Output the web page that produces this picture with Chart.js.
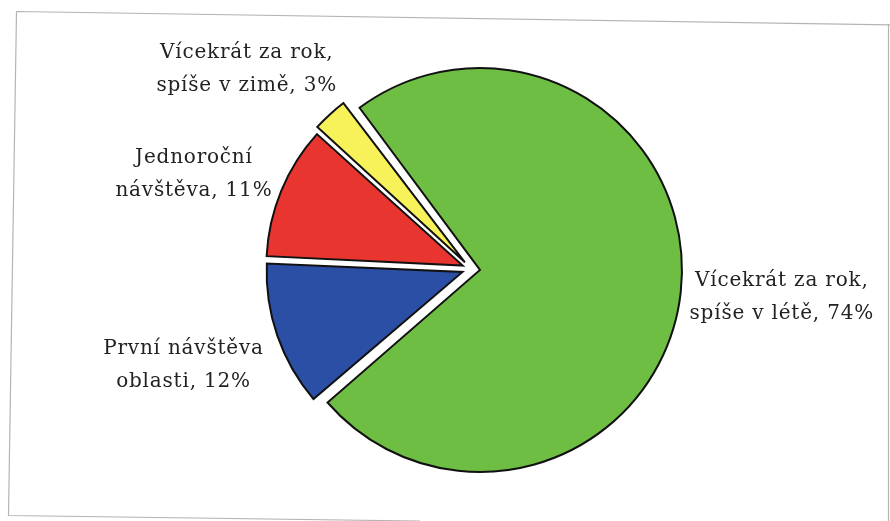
<!DOCTYPE html>
<html>
<head>
<meta charset="utf-8">
<script src="https://cdn.jsdelivr.net/npm/chart.js@4.4.1/dist/chart.umd.min.js"></script>
<style>
  html, body { margin: 0; padding: 0; background: #fff; }
  #wrap { width: 890px; height: 521px; position: relative; }
</style>
</head>
<body>
<div id="wrap"><canvas id="pieChart"></canvas></div>
<script>
const labels = [
  ['Vícekrát za rok,', 'spíše v létě, 74%'],
  ['První návštěva', 'oblasti, 12%'],
  ['Jednoroční', 'návštěva, 11%'],
  ['Vícekrát za rok,', 'spíše v zimě, 3%']
];
const shares = [74, 12, 11, 3];
const sliceColors = ['#6fbe44', '#2c4fa6', '#e8352f', '#f8f25a'];

// where each label block sits relative to the outer middle of its slice
const labelShift = [[101, 6], [-88, 28], [-82, -14], [-82, -44]];

const frame = {
  id: 'frame',
  beforeDraw(chart) {
    const ctx = chart.ctx;
    ctx.save();
    ctx.fillStyle = '#fff';
    ctx.fillRect(0, 0, chart.width, chart.height);
    ctx.strokeStyle = '#b4b4b4';
    ctx.lineWidth = 1.2;
    ctx.beginPath();
    ctx.moveTo(16.5, 11.5);
    ctx.lineTo(892, 25);
    ctx.moveTo(16.5, 11.5);
    ctx.lineTo(8.5, 515.5);
    ctx.lineTo(420, 521);
    ctx.moveTo(888.5, 24);
    ctx.lineTo(888.5, 521);
    ctx.stroke();
    ctx.restore();
  }
};

const sliceLabels = {
  id: 'sliceLabels',
  afterDraw(chart) {
    const ctx = chart.ctx;
    const meta = chart.getDatasetMeta(0);
    ctx.save();
    ctx.font = '20px "DejaVu Serif", serif';
    ctx.letterSpacing = '0.8px';
    ctx.fillStyle = '#222';
    ctx.textAlign = 'center';
    ctx.textBaseline = 'middle';
    const lineH = 33;
    meta.data.forEach((arc, i) => {
      const p = arc.getProps(['x', 'y', 'startAngle', 'endAngle', 'outerRadius'], true);
      const mid = (p.startAngle + p.endAngle) / 2;
      // chart.js moves an arc by a quarter of its offset and grows it by the same
      const off = (arc.options.offset || 0) / 4;
      const r = p.outerRadius + 2 * off;
      const cx = p.x + Math.cos(mid) * r + labelShift[i][0];
      const cy = p.y + Math.sin(mid) * r + labelShift[i][1];
      const lines = labels[i];
      lines.forEach((t, k) => {
        ctx.fillText(t, cx, cy + (k - (lines.length - 1) / 2) * lineH);
      });
    });
    ctx.restore();
  }
};

const pieCtx = document.getElementById('pieChart').getContext('2d');
const pieChart = new Chart(pieCtx, {
  type: 'pie',
  data: {
    labels: labels.map(l => l.join(' ')),
    datasets: [{
      data: shares,
      backgroundColor: sliceColors,
      borderColor: '#111',
      borderWidth: 2,
      borderJoinStyle: 'miter',
      offset: 36
    }]
  },
  options: {
    responsive: true,
    maintainAspectRatio: false,
    animation: false,
    rotation: -37,
    radius: 193,
    layout: { padding: { top: 40, bottom: 23, left: 80, right: 28 } },
    plugins: {
      legend: { display: false },
      tooltip: { enabled: false }
    }
  },
  plugins: [frame, sliceLabels]
});
</script>
</body>
</html>
